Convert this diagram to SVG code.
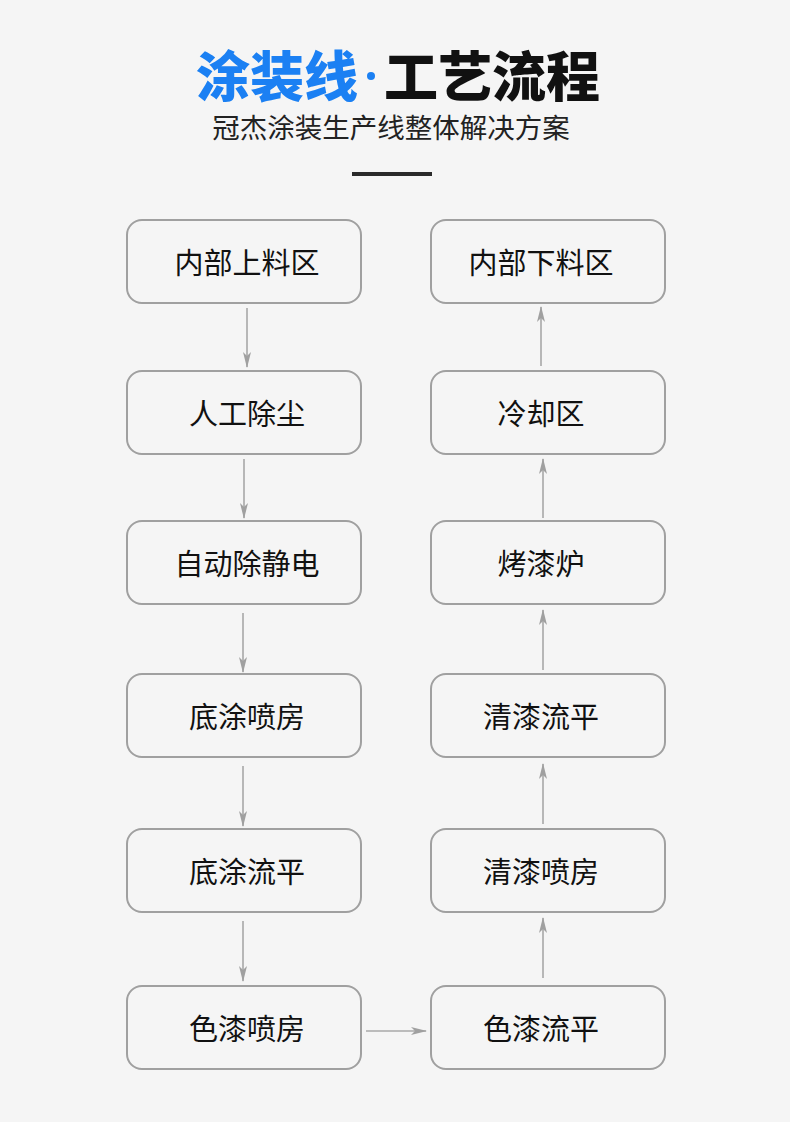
<svg xmlns="http://www.w3.org/2000/svg" width="790" height="1122" viewBox="0 0 790 1122">
<style>
.bg{fill:#f5f5f5}
.box{fill:#f5f5f5;stroke:#a0a0a0;stroke-width:2}
.lbl{font-family:"Noto Sans CJK SC","Noto Sans",sans-serif;font-size:29px;fill:#111;text-anchor:middle;dominant-baseline:central}
.con{stroke:#a8a8a8;stroke-width:1.6;fill:none}
.tt{font-family:"Noto Sans CJK SC",sans-serif;font-size:54px;font-weight:900}
</style>
<defs>
<marker id="ah" viewBox="0 0 16 8" refX="15" refY="4" markerWidth="16" markerHeight="8" markerUnits="userSpaceOnUse" orient="auto">
<path d="M0,0 L16,4 L0,8 L4,4 Z" fill="#a0a0a0"/>
</marker>
</defs>
<rect class="bg" x="0" y="0" width="790" height="1122"/>
<g id="title">
<text class="tt" x="358" y="97" text-anchor="end" fill="#1b80f3">涂装线</text>
<circle cx="371" cy="76" r="4" fill="#1b80f3"/>
<text class="tt" x="384" y="97" fill="#111">工艺流程</text>
<text x="391" y="138" text-anchor="middle" font-family="Noto Sans CJK SC,sans-serif" font-size="27.5" fill="#222">冠杰涂装生产线整体解决方案</text>
<rect x="352" y="172" width="80" height="4" fill="#2a2a2a"/>
</g>
<g id="n1"><rect class="box" x="127" y="220" width="234" height="83" rx="15"/><text class="lbl" x="247" y="261">内部上料区</text></g>
<g id="n2"><rect class="box" x="127" y="371" width="234" height="83" rx="15"/><text class="lbl" x="247" y="412">人工除尘</text></g>
<g id="n3"><rect class="box" x="127" y="521" width="234" height="83" rx="15"/><text class="lbl" x="247" y="562">自动除静电</text></g>
<g id="n4"><rect class="box" x="127" y="674" width="234" height="83" rx="15"/><text class="lbl" x="247" y="715">底涂喷房</text></g>
<g id="n5"><rect class="box" x="127" y="829" width="234" height="83" rx="15"/><text class="lbl" x="247" y="870">底涂流平</text></g>
<g id="n6"><rect class="box" x="127" y="986" width="234" height="83" rx="15"/><text class="lbl" x="247" y="1027">色漆喷房</text></g>
<g id="n7"><rect class="box" x="431" y="986" width="234" height="83" rx="15"/><text class="lbl" x="541" y="1027">色漆流平</text></g>
<g id="n8"><rect class="box" x="431" y="829" width="234" height="83" rx="15"/><text class="lbl" x="541" y="870">清漆喷房</text></g>
<g id="n9"><rect class="box" x="431" y="674" width="234" height="83" rx="15"/><text class="lbl" x="541" y="715">清漆流平</text></g>
<g id="n10"><rect class="box" x="431" y="521" width="234" height="83" rx="15"/><text class="lbl" x="541" y="562">烤漆炉</text></g>
<g id="n11"><rect class="box" x="431" y="371" width="234" height="83" rx="15"/><text class="lbl" x="541" y="412">冷却区</text></g>
<g id="n12"><rect class="box" x="431" y="220" width="234" height="83" rx="15"/><text class="lbl" x="541" y="261">内部下料区</text></g>
<g id="connectors">
<line class="con" x1="247" y1="308" x2="247" y2="367" marker-end="url(#ah)"/>
<line class="con" x1="244" y1="459" x2="244" y2="518" marker-end="url(#ah)"/>
<line class="con" x1="243" y1="613" x2="243" y2="672" marker-end="url(#ah)"/>
<line class="con" x1="243" y1="766" x2="243" y2="826" marker-end="url(#ah)"/>
<line class="con" x1="243" y1="921" x2="243" y2="981" marker-end="url(#ah)"/>
<line class="con" x1="366" y1="1031" x2="426" y2="1031" marker-end="url(#ah)"/>
<line class="con" x1="543" y1="978" x2="543" y2="918" marker-end="url(#ah)"/>
<line class="con" x1="543" y1="824" x2="543" y2="764" marker-end="url(#ah)"/>
<line class="con" x1="543" y1="670" x2="543" y2="610" marker-end="url(#ah)"/>
<line class="con" x1="543" y1="518" x2="543" y2="459" marker-end="url(#ah)"/>
<line class="con" x1="541" y1="366" x2="541" y2="307" marker-end="url(#ah)"/>
</g>
</svg>
